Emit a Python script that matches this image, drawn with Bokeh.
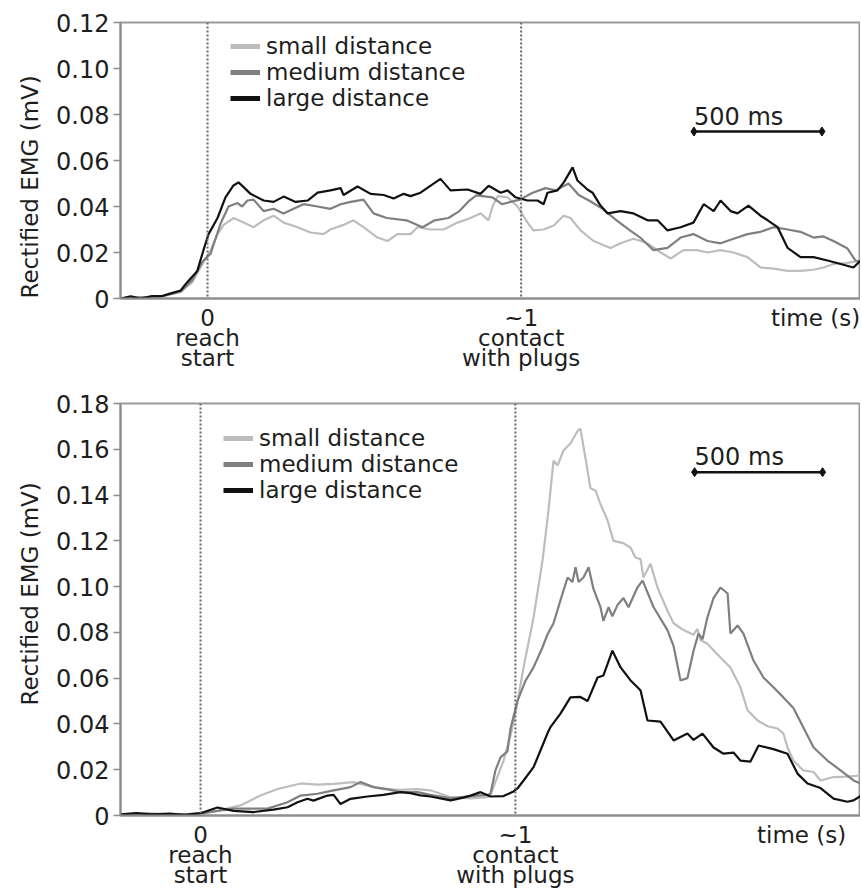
from bokeh.plotting import figure
from bokeh.models import Range1d, FixedTicker, PrintfTickFormatter, Span, Label, Legend, LegendItem, Title
from bokeh.layouts import column
from bokeh.embed import file_html
from bokeh.resources import INLINE

FONT = "DejaVu Sans"
SERIES_NAMES = ["small distance", "medium distance", "large distance"]
SERIES_COLORS = ["#bdbdbd", "#7f7f7f", "#111111"]

# ---------------- top panel data: (time s, rectified EMG mV) ----------------
TOP_SMALL = [(-0.34, 0.0), (-0.26, 0.0005), (-0.18, 0.0008), (-0.105, 0.003), (-0.06, 0.007),
             (-0.02, 0.015), (0.012, 0.021), (0.039, 0.028), (0.063, 0.032), (0.102, 0.035),
             (0.141, 0.033), (0.18, 0.031), (0.219, 0.034), (0.258, 0.036), (0.297, 0.033),
             (0.352, 0.031), (0.402, 0.0287), (0.453, 0.028), (0.48, 0.030), (0.531, 0.032),
             (0.57, 0.034), (0.609, 0.031), (0.664, 0.0265), (0.703, 0.025), (0.742, 0.028),
             (0.793, 0.028), (0.82, 0.031), (0.871, 0.030), (0.922, 0.030), (0.977, 0.033),
             (1.027, 0.035), (1.066, 0.037), (1.098, 0.034), (1.113, 0.040), (1.133, 0.0445),
             (1.172, 0.044), (1.211, 0.040), (1.25, 0.033), (1.273, 0.0296), (1.313, 0.030),
             (1.352, 0.0317), (1.391, 0.036), (1.418, 0.035), (1.457, 0.0296), (1.508, 0.025),
             (1.574, 0.022), (1.613, 0.024), (1.664, 0.026), (1.719, 0.024), (1.77, 0.020),
             (1.809, 0.0174), (1.859, 0.021), (1.914, 0.021), (1.953, 0.020), (2.004, 0.021),
             (2.055, 0.020), (2.109, 0.018), (2.16, 0.0135), (2.211, 0.013), (2.266, 0.012),
             (2.316, 0.012), (2.367, 0.0125), (2.406, 0.0135), (2.445, 0.015), (2.5, 0.0155),
             (2.551, 0.0165)]
TOP_MEDIUM = [(-0.34, 0.0), (-0.26, 0.0005), (-0.18, 0.001), (-0.105, 0.003), (-0.06, 0.008),
              (-0.02, 0.016), (0.012, 0.0195), (0.051, 0.0326), (0.082, 0.040), (0.117, 0.0415),
              (0.135, 0.040), (0.156, 0.0426), (0.18, 0.043), (0.219, 0.038), (0.258, 0.039),
              (0.297, 0.037), (0.336, 0.039), (0.375, 0.041), (0.43, 0.040), (0.48, 0.039),
              (0.52, 0.041), (0.559, 0.042), (0.609, 0.043), (0.648, 0.037), (0.7, 0.035),
              (0.777, 0.034), (0.84, 0.031), (0.887, 0.034), (0.941, 0.035), (0.984, 0.038),
              (1.023, 0.0426), (1.05, 0.0448), (1.113, 0.044), (1.15, 0.041), (1.219, 0.043),
              (1.27, 0.046), (1.32, 0.048), (1.36, 0.047), (1.41, 0.050), (1.45, 0.045),
              (1.49, 0.0426), (1.543, 0.039), (1.598, 0.034), (1.65, 0.0296), (1.69, 0.0265),
              (1.742, 0.021), (1.797, 0.022), (1.848, 0.0265), (1.898, 0.028), (1.953, 0.025),
              (2.004, 0.024), (2.055, 0.026), (2.109, 0.028), (2.16, 0.029), (2.211, 0.031),
              (2.266, 0.030), (2.316, 0.029), (2.367, 0.0265), (2.406, 0.027), (2.445, 0.025),
              (2.5, 0.0217), (2.531, 0.0165), (2.551, 0.016)]
TOP_LARGE = [(-0.34, 0.0), (-0.30, 0.001), (-0.26, 0.0), (-0.22, 0.001), (-0.18, 0.001),
             (-0.15, 0.002), (-0.105, 0.0035), (-0.08, 0.007), (-0.04, 0.012), (-0.016, 0.021),
             (0.004, 0.028), (0.039, 0.035), (0.07, 0.044), (0.10, 0.049), (0.121, 0.0505),
             (0.145, 0.048), (0.168, 0.0455), (0.219, 0.0426), (0.258, 0.042), (0.297, 0.0443),
             (0.344, 0.042), (0.391, 0.0426), (0.43, 0.046), (0.48, 0.047), (0.52, 0.048),
             (0.531, 0.045), (0.586, 0.0487), (0.637, 0.0455), (0.688, 0.045), (0.727, 0.0435),
             (0.766, 0.0455), (0.793, 0.0445), (0.832, 0.046), (0.91, 0.052), (0.949, 0.047),
             (1.016, 0.0474), (1.066, 0.0455), (1.098, 0.049), (1.145, 0.046), (1.172, 0.047),
             (1.203, 0.044), (1.25, 0.0426), (1.289, 0.0426), (1.313, 0.041), (1.328, 0.046),
             (1.367, 0.047), (1.391, 0.0504), (1.426, 0.057), (1.445, 0.0513), (1.484, 0.0474),
             (1.504, 0.046), (1.535, 0.0404), (1.563, 0.037), (1.613, 0.038), (1.664, 0.037),
             (1.719, 0.034), (1.758, 0.034), (1.797, 0.0296), (1.848, 0.031), (1.898, 0.033),
             (1.938, 0.041), (1.977, 0.038), (2.004, 0.0426), (2.043, 0.038), (2.07, 0.037),
             (2.113, 0.0404), (2.16, 0.036), (2.188, 0.034), (2.227, 0.031), (2.266, 0.022),
             (2.316, 0.018), (2.367, 0.018), (2.422, 0.0165), (2.473, 0.015), (2.523, 0.0135),
             (2.551, 0.0165)]

# ---------------- bottom panel data ----------------
BOT_SMALL = [(-0.3125, 0.0003), (-0.2, 0.0006), (-0.1, 0.0002), (0.0, 0.001), (0.066, 0.002),
             (0.156, 0.0044), (0.234, 0.0087), (0.301, 0.0116), (0.391, 0.014), (0.457, 0.0135),
             (0.52, 0.0138), (0.598, 0.0146), (0.652, 0.013), (0.715, 0.0115), (0.781, 0.0112),
             (0.848, 0.0115), (0.898, 0.011), (0.977, 0.008), (1.055, 0.0075), (1.121, 0.008),
             (1.133, 0.009), (1.16, 0.017), (1.184, 0.024), (1.211, 0.035), (1.23, 0.0445),
             (1.262, 0.0647), (1.301, 0.0865), (1.336, 0.1114), (1.359, 0.133), (1.379, 0.155),
             (1.395, 0.153), (1.418, 0.1595), (1.445, 0.1625), (1.473, 0.168), (1.484, 0.169),
             (1.504, 0.156), (1.523, 0.143), (1.543, 0.142), (1.5625, 0.136), (1.59, 0.129),
             (1.613, 0.120), (1.652, 0.119), (1.68, 0.117), (1.699, 0.1127), (1.719, 0.112),
             (1.73, 0.104), (1.758, 0.110), (1.785, 0.0996), (1.824, 0.0895), (1.848, 0.084),
             (1.887, 0.081), (1.926, 0.079), (1.941, 0.0815), (1.953, 0.0767), (1.98, 0.075),
             (2.031, 0.069), (2.07, 0.0647), (2.109, 0.056), (2.137, 0.046), (2.176, 0.0415),
             (2.215, 0.039), (2.254, 0.038), (2.277, 0.0358), (2.293, 0.0297), (2.316, 0.024),
             (2.355, 0.0197), (2.395, 0.019), (2.422, 0.0153), (2.473, 0.0168), (2.527, 0.017),
             (2.578, 0.0175)]
BOT_MEDIUM = [(-0.3125, 0.0005), (-0.2, 0.0008), (-0.1, 0.0004), (0.0, 0.0008), (0.066, 0.002),
              (0.129, 0.003), (0.262, 0.003), (0.34, 0.0058), (0.391, 0.0087), (0.457, 0.0095),
              (0.52, 0.011), (0.586, 0.0124), (0.625, 0.0146), (0.676, 0.0124), (0.73, 0.0115),
              (0.781, 0.0102), (0.848, 0.0102), (0.898, 0.009), (0.977, 0.0075), (1.055, 0.0085),
              (1.121, 0.009), (1.133, 0.0096), (1.152, 0.0197), (1.172, 0.0254), (1.199, 0.028),
              (1.211, 0.038), (1.238, 0.050), (1.27, 0.059), (1.301, 0.0647), (1.336, 0.0735),
              (1.355, 0.079), (1.379, 0.084), (1.406, 0.094), (1.434, 0.104), (1.453, 0.102),
              (1.465, 0.1085), (1.477, 0.102), (1.496, 0.104), (1.516, 0.1085), (1.535, 0.099),
              (1.5625, 0.091), (1.574, 0.085), (1.594, 0.091), (1.609, 0.087), (1.629, 0.092),
              (1.652, 0.095), (1.672, 0.091), (1.707, 0.0997), (1.727, 0.1026), (1.77, 0.091),
              (1.824, 0.081), (1.848, 0.074), (1.875, 0.059), (1.902, 0.060), (1.926, 0.072),
              (1.945, 0.0795), (1.961, 0.077), (1.98, 0.0865), (2.004, 0.095), (2.031, 0.0996),
              (2.059, 0.097), (2.07, 0.0795), (2.098, 0.083), (2.121, 0.0795), (2.16, 0.0677),
              (2.199, 0.0603), (2.238, 0.056), (2.277, 0.0516), (2.316, 0.047), (2.355, 0.0385),
              (2.395, 0.0297), (2.449, 0.024), (2.5, 0.0197), (2.551, 0.0153), (2.578, 0.014)]
BOT_LARGE = [(-0.3125, 0.0005), (-0.25, 0.001), (-0.19, 0.0005), (-0.12, 0.0008), (-0.06, 0.0003),
             (0.0, 0.001), (0.066, 0.0035), (0.129, 0.002), (0.207, 0.0015), (0.285, 0.0026),
             (0.34, 0.0036), (0.379, 0.0058), (0.418, 0.0073), (0.441, 0.0065), (0.496, 0.0087),
             (0.52, 0.009), (0.547, 0.005), (0.586, 0.0073), (0.652, 0.0083), (0.715, 0.009),
             (0.781, 0.0102), (0.82, 0.0098), (0.859, 0.0088), (0.898, 0.0083), (0.977, 0.0066),
             (1.027, 0.0078), (1.055, 0.0087), (1.094, 0.0102), (1.133, 0.0083), (1.184, 0.0085),
             (1.223, 0.0105), (1.238, 0.0118), (1.262, 0.0153), (1.301, 0.0211), (1.328, 0.0284),
             (1.355, 0.0358), (1.367, 0.0386), (1.406, 0.0445), (1.445, 0.0516), (1.484, 0.0518),
             (1.512, 0.050), (1.551, 0.0603), (1.574, 0.0612), (1.609, 0.072), (1.641, 0.0647),
             (1.68, 0.059), (1.707, 0.056), (1.719, 0.0546), (1.746, 0.0415), (1.797, 0.041),
             (1.848, 0.0328), (1.902, 0.0358), (1.926, 0.033), (1.961, 0.0358), (2.004, 0.0297),
             (2.043, 0.027), (2.082, 0.0275), (2.109, 0.024), (2.148, 0.0235), (2.18, 0.0306),
             (2.238, 0.029), (2.293, 0.027), (2.332, 0.0183), (2.371, 0.014), (2.422, 0.012),
             (2.473, 0.0074), (2.527, 0.006), (2.551, 0.0066), (2.578, 0.0085)]

TOP_Y_TICKS = [0, 0.02, 0.04, 0.06, 0.08, 0.10, 0.12]
BOT_Y_TICKS = [0, 0.02, 0.04, 0.06, 0.08, 0.10, 0.12, 0.14, 0.16, 0.18]
TOP_CONTACT_T = 1.225
BOT_CONTACT_T = 1.23
TOP_TIME_LABEL_T = 2.375
BOT_TIME_LABEL_T = 2.348
TOP_SCALEBAR_T = [1.9, 2.4]
TOP_SCALEBAR_V = [0.0726, 0.0726]
BOT_SCALEBAR_T = [1.93, 2.43]
BOT_SCALEBAR_V = [0.15, 0.15]
EVENT_LABELS = ["0\nreach\nstart", "~1\ncontact\nwith plugs"]
TIME_LABEL = "time (s)"
Y_TITLE = "Rectified EMG (mV)"

FRAME_LEFT = 120
FRAME_W = 740
AXIS_GRAY = "#8c8c8c"
TEXT = "#1e1e1e"
NAN = float("nan")


def make_panel(series, y_max, y_ticks, x_start, contact_t, time_t, bar_t, bar_v,
               frame_h, b_top, ytitle_offset, legend_xy):
    x_end = x_start + FRAME_W / 256.0
    ppu = frame_h / y_max
    p = figure(frame_width=FRAME_W, frame_height=frame_h, output_backend="svg",
               toolbar_location=None, x_range=Range1d(x_start, x_end), y_range=Range1d(0, y_max),
               min_border_left=FRAME_LEFT, min_border_right=0,
               min_border_top=b_top, min_border_bottom=0)
    p.xgrid.visible = False
    p.ygrid.visible = False
    p.outline_line_color = "#9a9a9a"
    p.outline_line_width = 2
    p.background_fill_color = "white"
    p.border_fill_color = "white"

    yax = p.yaxis[0]
    yax.ticker = FixedTicker(ticks=y_ticks)
    yax.formatter = PrintfTickFormatter(format="%.2f")
    yax.major_label_overrides = {0: "0"}
    yax.major_tick_out = 7
    yax.major_tick_in = 0
    yax.minor_tick_out = 0
    yax.minor_tick_in = 0
    yax.axis_line_color = AXIS_GRAY
    yax.axis_line_width = 2
    yax.major_tick_line_color = AXIS_GRAY
    yax.major_tick_line_width = 1.5
    yax.major_label_text_font = FONT
    yax.major_label_text_font_size = "24px"
    yax.major_label_text_color = TEXT
    yax.major_label_standoff = 4

    xax = p.xaxis[0]
    xax.ticker = FixedTicker(ticks=[0, contact_t, time_t])
    xax.major_label_overrides = {0: EVENT_LABELS[0], contact_t: EVENT_LABELS[1], time_t: TIME_LABEL}
    xax.major_tick_out = 0
    xax.major_tick_in = 0
    xax.minor_tick_out = 0
    xax.minor_tick_in = 0
    xax.axis_line_color = AXIS_GRAY
    xax.axis_line_width = 2
    xax.major_label_text_font = FONT
    xax.major_label_text_font_size = "23px"
    xax.major_label_text_line_height = 0.78
    xax.major_label_text_color = TEXT
    xax.major_label_standoff = 6

    p.add_layout(Title(text=Y_TITLE, align="left", offset=ytitle_offset, standoff=22,
                       text_font=FONT, text_font_size="23px", text_font_style="normal",
                       text_color=TEXT), "left")

    for loc in (0, contact_t):
        p.add_layout(Span(location=loc, dimension="height", line_color="#666666",
                          line_dash="2 2", line_width=2))

    for data, color in zip(series, SERIES_COLORS):
        ts = [d[0] for d in data]
        vs = [d[1] for d in data]
        p.line(ts, vs, line_color=color, line_width=2.2)

    # thick swatches for the legend (same colours as the traces, nothing drawn in the frame)
    swatches = [p.line([NAN], [NAN], line_color=c, line_width=5) for c in SERIES_COLORS]
    legend = Legend(items=[LegendItem(label=n, renderers=[r]) for n, r in zip(SERIES_NAMES, swatches)],
                    location=legend_xy, glyph_width=30, glyph_height=24, label_height=24,
                    label_standoff=6, spacing=-2, padding=0, margin=0,
                    border_line_color=None, background_fill_alpha=0,
                    label_text_font=FONT, label_text_font_size="23px", label_text_color=TEXT)
    p.add_layout(legend)

    # 500 ms scale bar
    p.line(bar_t, bar_v, line_color="#111111", line_width=2.5)
    p.scatter(bar_t, bar_v, marker="diamond", size=9, color="#111111")
    p.add_layout(Label(x=bar_t[0], y=bar_v[0] + 15 / ppu, text="500 ms", text_font=FONT,
                       text_font_size="24px", text_color=TEXT, text_baseline="alphabetic",
                       text_align="left"))
    return p


p1 = make_panel([TOP_SMALL, TOP_MEDIUM, TOP_LARGE], 0.12, TOP_Y_TICKS, -0.34, TOP_CONTACT_T,
                TOP_TIME_LABEL_T, TOP_SCALEBAR_T, TOP_SCALEBAR_V, frame_h=276, b_top=22,
                ytitle_offset=0, legend_xy=(110, 187))
p2 = make_panel([BOT_SMALL, BOT_MEDIUM, BOT_LARGE], 0.18, BOT_Y_TICKS, -0.3125, BOT_CONTACT_T,
                BOT_TIME_LABEL_T, BOT_SCALEBAR_T, BOT_SCALEBAR_V, frame_h=412, b_top=29,
                ytitle_offset=110, legend_xy=(103, 312))

layout = column(p1, p2, spacing=0)
open("out.html", "w").write(file_html(layout, INLINE))
